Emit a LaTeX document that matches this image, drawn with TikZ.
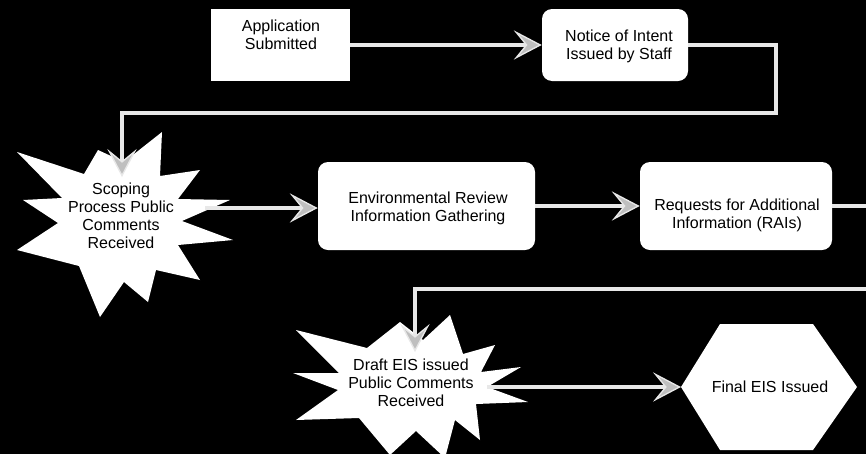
\documentclass[tikz,border=0pt]{standalone}
\usepackage{fontspec}
\setmainfont{Liberation Sans}
\usetikzlibrary{arrows.meta}
\tikzset{
  sqbox/.style={fill=white, draw=none, inner sep=0pt},
  rbox/.style={fill=white, draw=none, rounded corners=7.5pt, inner sep=0pt},
  shapefill/.style={fill=white, draw=none},
  lbl/.style={align=center, font=\fontsize{12}{13.4}\selectfont, text=black, inner sep=0pt},
  conn/.style={draw=gray!18, line width=3.3pt,
    -{Stealth[length=21pt,width=22pt,inset=9pt,line width=1pt,fill=gray!50]}}
}
\begin{document}
\begin{tikzpicture}[x=0.75pt,y=-0.75pt]
\clip (0,0) rectangle (866,454);
\fill[black] (0,0) rectangle (866,454);

% boxes
\node[sqbox, minimum width=104.25pt, minimum height=54pt] (app) at (280.5,45) {};
\node[lbl] (apptxt) at (281,35) {Application\\Submitted};

\node[rbox, minimum width=109.5pt, minimum height=54pt] (notice) at (615,45) {};
\node[lbl] (noticetxt) at (619,46) {Notice of Intent\\Issued by Staff};

\node[rbox, minimum width=162.75pt, minimum height=66pt] (env) at (426.5,206) {};
\node[lbl] (envtxt) at (428,208) {Environmental Review\\Information Gathering};

\node[rbox, minimum width=144pt, minimum height=66pt] (req) at (736,206) {};
\node[lbl] (reqtxt) at (737,215) {Requests for Additional\\Information (RAIs)};

% scoping star
\fill[shapefill] (162,132) -- (160,176) -- (200,170) -- (178,199) -- (230,200) -- (182,221)
  -- (233,240) -- (178,245) -- (200,280) -- (156,270) -- (148,302) -- (124,282)
  -- (100,317) -- (79,266) -- (17,250) -- (58,223) -- (23,200) -- (62,198)
  -- (17,152) -- (84,174) -- (98,150) -- (124,162) -- cycle;
\node[lbl] (scoping) at (121,216) {Scoping\\Process Public\\Comments\\Received};

% draft EIS star
\fill[shapefill] (450,315) -- (463,354) -- (495,345) -- (481,372) -- (521,367) -- (487,387)
  -- (528,402) -- (476,404) -- (480,440) -- (455,420) -- (445,458) -- (416,431)
  -- (390,455) -- (359,418) -- (296,420) -- (338,390) -- (293,373) -- (339,373)
  -- (296,330) -- (367,348) -- (400,322) -- (423,340) -- cycle;
\node[lbl] (draft) at (411,383) {Draft EIS issued\\Public Comments\\Received};

% final hexagon
\fill[shapefill] (681,387) -- (720,324) -- (813,324) -- (857,387) -- (813,450) -- (720,450) -- cycle;
\node[lbl] (final) at (770,387) {Final EIS Issued};

% connector anchor points
\coordinate (r1) at (776,113);
\coordinate (l1) at (122,113);
\coordinate (scopeTop) at (122,177);
\coordinate (scopeR) at (205,208);
\coordinate (r2) at (885,289);
\coordinate (l2) at (415,289);
\coordinate (draftTop) at (415,352);
\coordinate (draftR) at (487,387);
\coordinate (finalW) at (681,387);

% connectors
\draw[conn] (app.east) -- (notice.west);
\draw[conn] (notice.east) -| (r1) -- (l1) -- (scopeTop);
\draw[conn] (scopeR) -- (scopeR -| env.west);
\draw[conn] (env.east) -- (req.west);
\draw[conn] (req.east) -| (r2) -- (l2) -- (draftTop);
\draw[conn] (draftR) -- (finalW);
\end{tikzpicture}
\end{document}
